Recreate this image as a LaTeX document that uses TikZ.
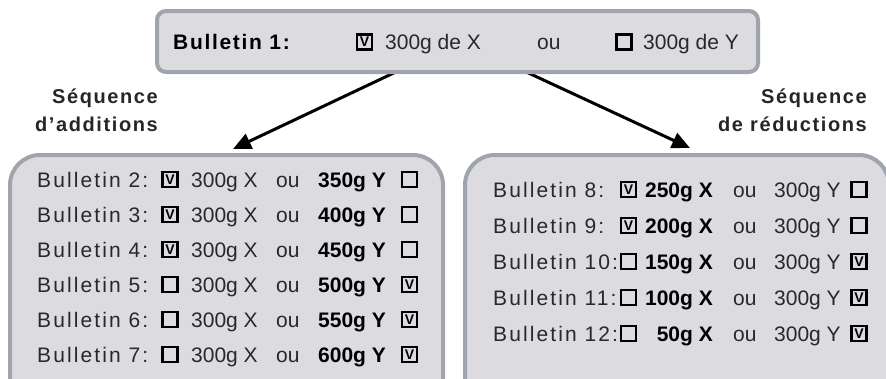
\documentclass[tikz,border=0pt]{standalone}
\usepackage{fontspec}
\setmainfont{Liberation Sans}
\newfontfamily\spaced[LetterSpace=10]{Liberation Sans}
\newfontfamily\spacedb[LetterSpace=8]{Liberation Sans Bold}
\usetikzlibrary{arrows.meta}
\definecolor{boxfill}{RGB}{220,220,224}
\definecolor{boxline}{RGB}{160,164,172}
\definecolor{txt}{RGB}{40,40,40}
\begin{document}
\begin{tikzpicture}[x=1pt,y=-1pt,
  panel/.style={draw=boxline, fill=boxfill, line width=4pt},
  t/.style={inner sep=0pt, anchor=base west, text=txt, font=\fontsize{21}{25}\selectfont},
  tb/.style={inner sep=0pt, anchor=base west, text=black, font=\bfseries\fontsize{21}{25}\selectfont},
  lab/.style={inner sep=0pt, anchor=base east, text=black!85, font=\spacedb\fontsize{20}{24}\selectfont},
  cbox/.style={draw=black, line width=2.4pt, minimum size=15pt, inner sep=0pt, text=black, font=\bfseries\fontsize{14}{14}\selectfont},
  arr/.style={line width=3pt, -{Triangle[length=18pt,width=16pt]}}]
\useasboundingbox (0,0) rectangle (886,378);
\clip (0,0) rectangle (886,378);
% arrows
\coordinate (la) at (400,70);
\coordinate (lt) at (233,149);
\coordinate (ra) at (522,70);
\coordinate (rt) at (690,148);
\draw[arr] (la) -- (lt);
\draw[arr] (ra) -- (rt);
% top box
\draw[panel, rounded corners=9pt] (157,11) rectangle (758,72);
\node[tb] (b1) at (173,49.5) {\spacedb Bulletin 1:};
\node[cbox] (b1c1) at (364.5,42) {V};
\node[t] (b1x) at (385,49.5) {300g de X};
\node[t] (b1ou) at (537,49.5) {ou};
\node[cbox] (b1c2) at (624,42) {};
\node[t] (b1y) at (643,49.5) {300g de Y};
% labels
\node[lab] (sa1) at (158,103) {Séquence};
\node[lab] (sa2) at (158,131) {d’additions};
\node[lab] (sr1) at (867,103) {Séquence};
\node[lab] (sr2) at (867,131) {de réductions};
% lower boxes
\draw[panel, rounded corners=30pt] (10,155) rectangle (443,420);
\draw[panel, rounded corners=30pt] (465,155) rectangle (889,420);
% left rows
\foreach \n/\amt/\a/\b [count=\i from 0] in {2/350/1/0,3/400/1/0,4/450/1/0,5/500/0/1,6/550/0/1,7/600/0/1}{
  \pgfmathsetmacro\yb{187+35*\i}
  \pgfmathsetmacro\yc{\yb-7.5}
  \node[t] (lb\n) at (37,\yb) {\spaced Bulletin \n:};
  \node[cbox] (lc\n) at (170,\yc) {\ifnum\a=1 V\fi};
  \node[t] (lx\n) at (191,\yb) {300g X};
  \node[t] (lo\n) at (276,\yb) {ou};
  \node[tb] (ly\n) at (318,\yb) {\amt g Y};
  \node[cbox] (ld\n) at (409.5,\yc) {\ifnum\b=1 V\fi};
}
% right rows
\foreach \n/\amt/\a/\b [count=\i from 0] in {8/250/1/0,9/200/1/0,10/150/0/1,11/100/0/1,12/50/0/1}{
  \pgfmathsetmacro\yb{197+36*\i}
  \pgfmathsetmacro\yc{\yb-7.5}
  \node[t] (rb\n) at (493,\yb) {\spaced Bulletin \n:};
  \node[cbox, fill=boxfill] (rc\n) at (628.5,\yc) {\ifnum\a=1 V\fi};
  \node[tb, anchor=base east] (rx\n) at (713,\yb) {\amt g X};
  \node[t] (ro\n) at (733,\yb) {ou};
  \node[t] (ry\n) at (774,\yb) {300g Y};
  \node[cbox] (rd\n) at (859,\yc) {\ifnum\b=1 V\fi};
}
\end{tikzpicture}
\end{document}
